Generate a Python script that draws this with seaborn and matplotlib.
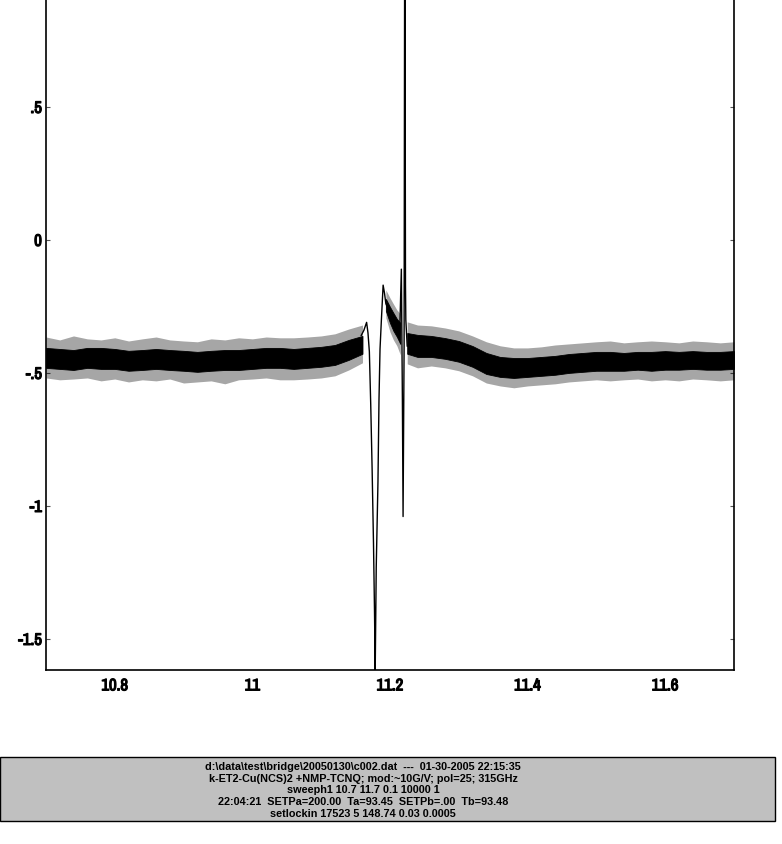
"""
Lock-in sweep trace (sweeph1 10.7 -> 11.7) with the run info box underneath.
"""

import matplotlib
matplotlib.use("Agg")

import matplotlib.pyplot as plt
import matplotlib.patheffects as pe
from matplotlib import font_manager
from matplotlib.patches import Rectangle
import seaborn as sns

# ── data ──────────────────────────────────────────────────────────────────
# Noisy baseline stored as envelopes: dense core and extent of the spikes.

LEFT_X = [10.70, 10.72, 10.74, 10.76, 10.78, 10.80, 10.82, 10.84, 10.86, 10.88,
          10.90, 10.92, 10.94, 10.96, 10.98, 11.00, 11.02, 11.04, 11.06, 11.08,
          11.10, 11.12, 11.14, 11.16]
LEFT_CORE_HI = [-0.406, -0.410, -0.414, -0.406, -0.406, -0.410, -0.417, -0.414,
                -0.410, -0.414, -0.417, -0.421, -0.417, -0.414, -0.414, -0.410,
                -0.406, -0.406, -0.410, -0.406, -0.402, -0.395, -0.376, -0.361]
LEFT_CORE_LO = [-0.481, -0.485, -0.489, -0.481, -0.485, -0.485, -0.492, -0.489,
                -0.485, -0.489, -0.492, -0.496, -0.492, -0.489, -0.489, -0.485,
                -0.481, -0.481, -0.485, -0.481, -0.477, -0.470, -0.451, -0.428]
LEFT_SPIKE_HI = [-0.365, -0.376, -0.361, -0.372, -0.376, -0.368, -0.380, -0.372,
                 -0.365, -0.376, -0.380, -0.383, -0.372, -0.376, -0.368, -0.372,
                 -0.365, -0.368, -0.368, -0.365, -0.361, -0.353, -0.335, -0.320]
LEFT_SPIKE_LO = [-0.519, -0.526, -0.523, -0.519, -0.530, -0.523, -0.534, -0.526,
                 -0.530, -0.523, -0.538, -0.534, -0.530, -0.541, -0.526, -0.523,
                 -0.519, -0.526, -0.526, -0.523, -0.519, -0.511, -0.489, -0.462]

MID_X = [11.194, 11.200, 11.205, 11.210, 11.215]
MID_CORE_HI = [-0.222, -0.252, -0.275, -0.297, -0.312]
MID_CORE_LO = [-0.267, -0.312, -0.342, -0.364, -0.391]
MID_SPIKE_HI = [-0.188, -0.218, -0.241, -0.263, -0.278]
MID_SPIKE_LO = [-0.293, -0.346, -0.376, -0.398, -0.432]

RIGHT_X = [11.225, 11.24, 11.26, 11.28, 11.30, 11.32, 11.34, 11.36, 11.38,
           11.40, 11.42, 11.44, 11.46, 11.48, 11.50, 11.52, 11.54, 11.56,
           11.58, 11.60, 11.62, 11.64, 11.66, 11.68, 11.70]
RIGHT_CORE_HI = [-0.350, -0.357, -0.361, -0.369, -0.380, -0.399, -0.425, -0.440,
                 -0.444, -0.444, -0.440, -0.436, -0.429, -0.425, -0.421, -0.421,
                 -0.425, -0.421, -0.421, -0.418, -0.421, -0.418, -0.421, -0.421,
                 -0.418]
RIGHT_CORE_LO = [-0.428, -0.440, -0.440, -0.447, -0.458, -0.477, -0.504, -0.515,
                 -0.519, -0.515, -0.511, -0.507, -0.500, -0.496, -0.492, -0.492,
                 -0.492, -0.488, -0.492, -0.488, -0.488, -0.485, -0.488, -0.488,
                 -0.485]
RIGHT_SPIKE_HI = [-0.308, -0.320, -0.323, -0.331, -0.342, -0.361, -0.383, -0.398,
                  -0.406, -0.406, -0.402, -0.395, -0.391, -0.387, -0.383, -0.380,
                  -0.387, -0.383, -0.380, -0.383, -0.387, -0.380, -0.383, -0.387,
                  -0.383]
RIGHT_SPIKE_LO = [-0.466, -0.481, -0.474, -0.481, -0.492, -0.511, -0.538, -0.549,
                  -0.556, -0.549, -0.545, -0.541, -0.534, -0.530, -0.526, -0.530,
                  -0.526, -0.523, -0.530, -0.526, -0.530, -0.523, -0.526, -0.530,
                  -0.526]

# the two resonance features as a plain line
FEAT_X = [11.158, 11.162, 11.166, 11.168, 11.170, 11.172, 11.174, 11.176,
          11.1775, 11.1785, 11.180, 11.1825, 11.184, 11.1855, 11.1875, 11.190,
          11.192, 11.194, 11.214, 11.2165, 11.218, 11.219, 11.2205, 11.2215,
          11.2225, 11.223, 11.225]
FEAT_Y = [-0.36, -0.34, -0.31, -0.35, -0.42, -0.62, -0.86, -1.14,
          -1.40, -1.62, -1.23, -0.91, -0.60, -0.41, -0.30, -0.17,
          -0.20, -0.24, -0.36, -0.11, -0.60, -1.04, -0.40, 1.50,
          -0.17, -0.30, -0.40]

X_TICKS = [10.8, 11.0, 11.2, 11.4, 11.6]
X_LABELS = ["10.8", "11", "11.2", "11.4", "11.6"]
Y_TICKS = [0.5, 0.0, -0.5, -1.0, -1.5]
Y_LABELS = [".5", "0", "-.5", "-1", "-1.5"]

INFO_LINES = [
    r"d:\data\test\bridge\20050130\c002.dat  ---  01-30-2005 22:15:35",
    "k-ET2-Cu(NCS)2 +NMP-TCNQ; mod:~10G/V; pol=25; 315GHz",
    "sweeph1 10.7 11.7 0.1 10000 1",
    "22:04:21  SETPa=200.00  Ta=93.45  SETPb=.00  Tb=93.48",
    "setlockin 17523 5 148.74 0.03 0.0005",
]

W, H = 782, 844

sns.set_theme(style="white")
names = sorted({f.name for f in font_manager.fontManager.ttflist})
narrow = [n for n in names if "Narrow" in n or "Condensed" in n]
INFO_FONT = "Liberation Sans" if "Liberation Sans" in names else "DejaVu Sans"
TICK_FONT = narrow[0] if narrow else INFO_FONT
plt.rcParams["font.family"] = [TICK_FONT, "DejaVu Sans"]

fig = plt.figure(figsize=(W / 100, H / 100), dpi=100)
ax = fig.add_axes([46 / W, 174 / H, 688 / W, 670 / H])

# noise band: faint spike extent, then the solid core
for xs, slo, shi, clo, chi in [
    (LEFT_X, LEFT_SPIKE_LO, LEFT_SPIKE_HI, LEFT_CORE_LO, LEFT_CORE_HI),
    (MID_X, MID_SPIKE_LO, MID_SPIKE_HI, MID_CORE_LO, MID_CORE_HI),
    (RIGHT_X, RIGHT_SPIKE_LO, RIGHT_SPIKE_HI, RIGHT_CORE_LO, RIGHT_CORE_HI),
]:
    ax.fill_between(xs, slo, shi, color="black", alpha=0.35, lw=0)
    ax.fill_between(xs, clo, chi, color="black", lw=0.6)

sns.lineplot(x=FEAT_X, y=FEAT_Y, ax=ax, color="black", lw=1.0,
             sort=False, estimator=None)

ax.set_xlim(10.7, 11.7)
ax.set_ylim(-1.617, 0.902)
ax.set_xticks(X_TICKS)
ax.set_xticklabels(X_LABELS)
ax.set_yticks(Y_TICKS)
ax.set_yticklabels(Y_LABELS)
ax.set_xlabel("")
ax.set_ylabel("")

# the narrow face has no bold cut here, so thicken the glyphs with a stroke
tick_size = 12 if narrow else 9.5
bold = [pe.withStroke(linewidth=0.9, foreground="black")]
for lab in ax.get_xticklabels() + ax.get_yticklabels():
    lab.set_fontweight("bold")
    lab.set_fontsize(tick_size)
    lab.set_color("black")
    lab.set_path_effects(bold)

ax.tick_params(axis="y", which="both", direction="in", length=3, width=0.8,
               color="#555555", left=True, right=True, labelright=False, pad=3)
ax.tick_params(axis="x", which="both", length=0, pad=6)

ax.spines["top"].set_visible(False)
for side in ["left", "right", "bottom"]:
    ax.spines[side].set_color("black")
    ax.spines[side].set_linewidth(1.2)
ax.grid(False)

# info box at the bottom
fig.patches.append(Rectangle((0, 23 / H), 775 / W, 64 / H, transform=fig.transFigure,
                             facecolor="#c0c0c0", edgecolor="black", lw=1.0))
line_y = [767, 779, 790, 802, 814]
for txt, y in zip(INFO_LINES, line_y):
    fig.text(363 / W, 1 - y / H, txt, ha="center", va="center",
             fontsize=7.8, fontweight="bold", family=[INFO_FONT, "DejaVu Sans"],
             color="black")

fig.savefig("out.png", dpi=100)
